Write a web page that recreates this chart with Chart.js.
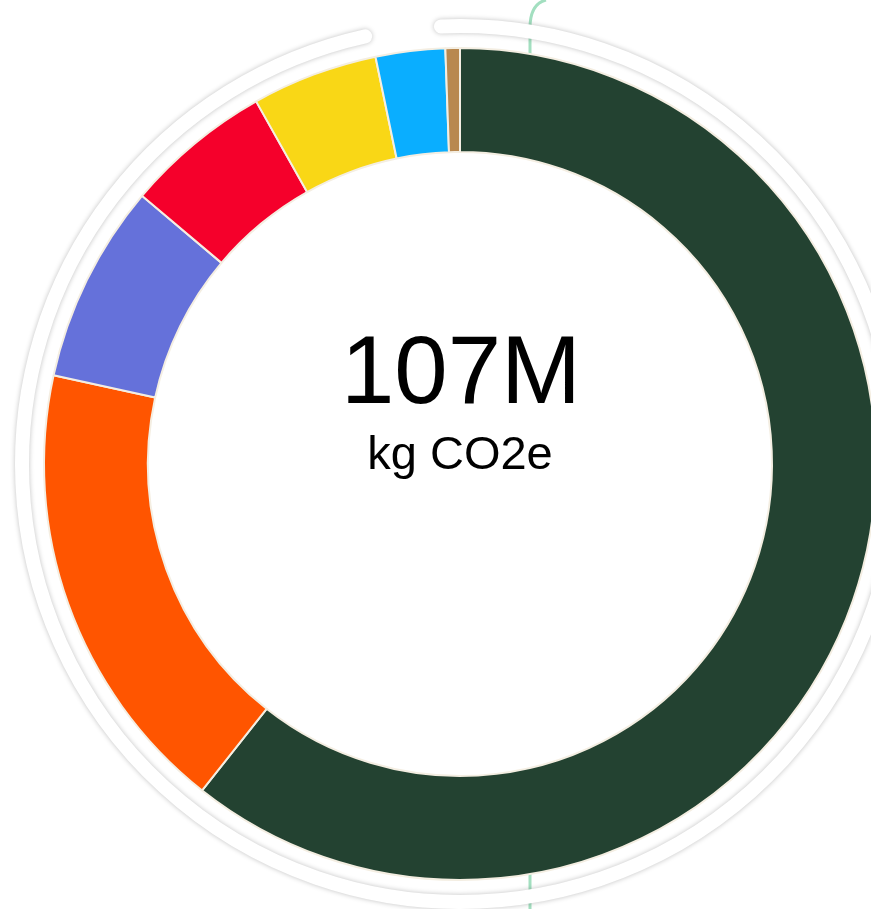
<!DOCTYPE html>
<html>
<head>
<meta charset="utf-8">
<script src="https://cdn.jsdelivr.net/npm/chart.js@4"></script>
<style>
  body { margin: 0; background: #fff; overflow: hidden; }
  #wrap { position: absolute; left: 0; top: 0; width: 920px; height: 928px; }
</style>
</head>
<body>
<div id="wrap"><canvas id="myChart"></canvas></div>
<script>
// emissions split, millions of kg CO2e
const categories = ['Category 1', 'Category 2', 'Category 3', 'Category 4', 'Category 5', 'Category 6', 'Category 7']
const values = [64.8, 19.0, 8.26, 6.09, 5.23, 2.88, 0.6]
const colors = ['#234231', '#ff5500', '#6571da', '#f5002b', '#f9d716', '#0aaeff', '#b8884f']
const totalLabel = '107M'
const unitLabel = 'kg CO2e'

var ctx = document.getElementById('myChart').getContext('2d')

// background bits: green guide line and the outer white track with a soft shadow
const backdrop = {
  id: 'backdrop',
  beforeDatasetsDraw(chart) {
    const c = chart.ctx
    const meta = chart.getDatasetMeta(0).data[0]
    const cx = meta.x, cy = meta.y
    c.save()
    c.strokeStyle = '#a3dfc0'
    c.lineWidth = 3
    c.beginPath()
    c.moveTo(530, 928)
    c.lineTo(530, 28)
    c.quadraticCurveTo(530, 4, 546, 0)
    c.stroke()

    // the hole of the ring is plain white
    c.fillStyle = '#fff'
    c.beginPath()
    c.arc(cx, cy, meta.outerRadius, 0, Math.PI * 2)
    c.fill()

    c.shadowColor = 'rgba(0,0,0,0.25)'
    c.shadowBlur = 5
    c.strokeStyle = '#ffffff'
    c.lineWidth = 14
    c.lineCap = 'round'
    c.beginPath()
    const rad = d => (d - 90) * Math.PI / 180
    c.arc(cx, cy, 438, rad(357.5), rad(347.5 + 360))
    c.stroke()
    c.restore()
  }
}

const centerText = {
  id: 'centerText',
  afterDraw(chart) {
    const c = chart.ctx
    const meta = chart.getDatasetMeta(0).data[0]
    c.save()
    c.fillStyle = '#000'
    c.textAlign = 'center'
    c.textBaseline = 'alphabetic'
    c.font = '96px "Liberation Sans", Arial, sans-serif'
    c.fillText(totalLabel, meta.x + 1, 403)
    c.font = '47px "Liberation Sans", Arial, sans-serif'
    c.fillText(unitLabel, meta.x, 469)
    c.restore()
  }
}

var myChart = new Chart(ctx, {
  type: 'doughnut',
  data: {
    labels: categories,
    datasets: [{
      data: values,
      backgroundColor: colors,
      borderColor: '#f4eee2',
      borderWidth: 2
    }]
  },
  options: {
    responsive: true,
    maintainAspectRatio: false,
    animation: false,
    cutout: '75%',
    layout: { padding: { left: 43, right: 43, top: 47, bottom: 47 } },
    plugins: {
      legend: { display: false },
      tooltip: { enabled: false }
    }
  },
  plugins: [backdrop, centerText]
})
</script>
</body>
</html>
